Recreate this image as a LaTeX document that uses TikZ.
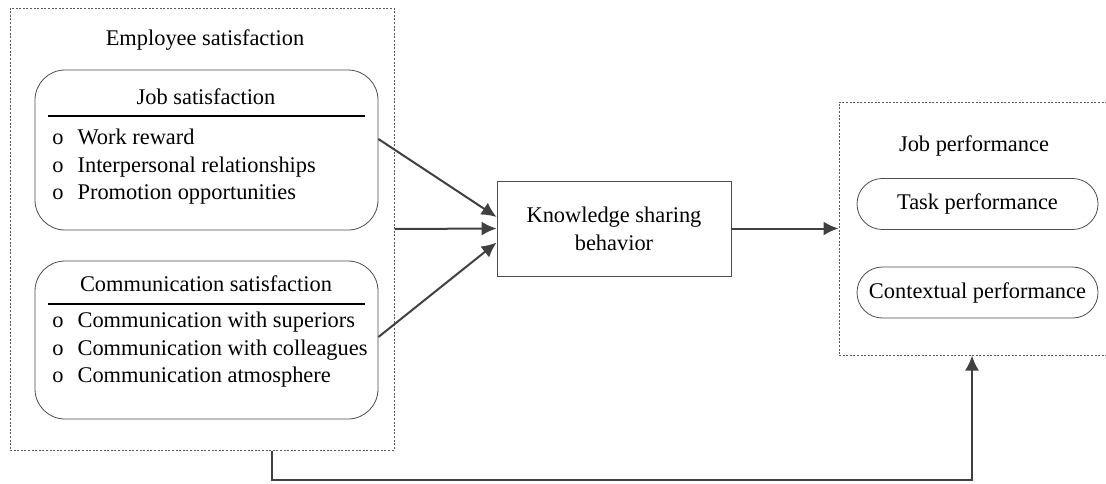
\documentclass[tikz,border=0pt]{standalone}
\usepackage{fontspec}
\setmainfont{Liberation Serif}
\usetikzlibrary{arrows.meta}
\begin{document}
\begin{tikzpicture}[x = 0.5pt, y = -0.5pt,
    every node/.style = {font = \fontsize{11.2}{13.75}\selectfont, inner sep = 0pt},
    group/.style = {draw = black!65, line width = 0.5pt, dash pattern = on 1pt off 0.8pt},
    roundbox/.style = {draw = black!70, line width = 0.4pt, rounded corners = 15pt, minimum width = 171.5pt},
    pill/.style = {draw = black!70, line width = 0.4pt, rounded corners = 12.7pt, minimum width = 120.5pt, minimum height = 25.5pt},
    plainbox/.style = {draw = black!70, line width = 0.4pt},
    link/.style = {draw = black!75, line width = 1pt, -{Latex[length = 7.5pt, width = 7pt]}}]
    \clip (0,0) rectangle (1106,483);
    % employee satisfaction
    \node[group, minimum width = 192pt, minimum height = 221pt] (emp) at (202,229) {};
    \node (emptitle) at (205,40) {Employee satisfaction};
    \node[roundbox, minimum height = 80pt] (jobsat) at (206.5,150) {};
    \node (jobtitle) at (206,97) {Job satisfaction};
    \draw[line width = 0.8pt] (48,116) -- (365,116);
    \node[anchor = west, align = left] (joblist) at (52,167) {o\hspace{7pt}Work reward\\o\hspace{7pt}Interpersonal relationships\\o\hspace{7pt}Promotion opportunities};
    \node[roundbox, minimum height = 79pt] (comm) at (206.5,340) {};
    \node (commtitle) at (206,284) {Communication satisfaction};
    \draw[line width = 0.8pt] (48,304) -- (365,304);
    \node[anchor = west, align = left] (commlist) at (52,350) {o\hspace{7pt}Communication with superiors\\o\hspace{7pt}Communication with colleagues\\o\hspace{7pt}Communication atmosphere};
    % knowledge sharing
    \node[plainbox, minimum width = 117pt, minimum height = 47.5pt, align = center, font = \fontsize{11.2}{14}\selectfont] (ksb) at (614,228.5) {Knowledge sharing\\behavior};
    % job performance
    \node[group, minimum width = 137pt, minimum height = 126.5pt] (perf) at (976,228.5) {};
    \node (perftitle) at (974,146) {Job performance};
    \node[pill] (task) at (977.5,204) {Task performance};
    \node[pill] (context) at (977.5,292.5) {Contextual performance};
    % links
    \draw[link] ([yshift = 5.5pt]jobsat.east) -- ([yshift = 5.75pt]ksb.west);
    \draw[link] (emp.east) -- (ksb.west);
    \draw[link] ([yshift = 1.5pt]comm.east) -- ([yshift = -7pt]ksb.west);
    \draw[link] (ksb.east) -- (perf.west);
    \draw[link] ([xshift = 35pt]emp.south) -- ++(0,29) -| ([xshift = -2pt]perf.south);
\end{tikzpicture}
\end{document}
